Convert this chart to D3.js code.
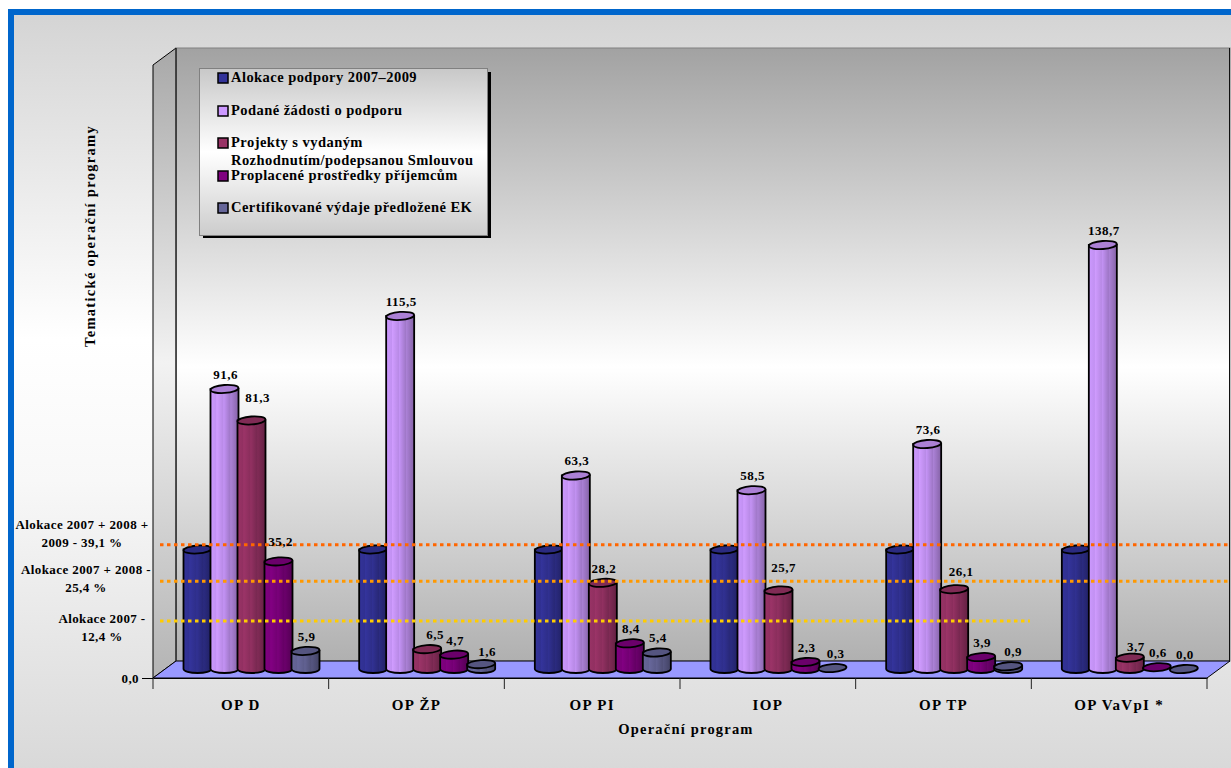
<!DOCTYPE html>
<html>
<head>
<meta charset="utf-8">
<script src="https://cdn.jsdelivr.net/npm/d3@7"></script>
<style>
  html, body { margin: 0; padding: 0; background: #fff; overflow: hidden; }
  text { font-family: "Liberation Serif", serif; font-weight: bold; fill: #000; }
</style>
</head>
<body>
<svg id="chart" width="1231" height="768"></svg>
<script>
// values, in millions / percent of allocation
let categories = ["OP D", "OP ŽP", "OP PI", "IOP", "OP TP", "OP VaVpI *"];
let seriesNames = [
  "Alokace podpory 2007–2009",
  "Podané žádosti o podporu",
  "Projekty s vydaným\nRozhodnutím/podepsanou Smlouvou",
  "Proplacené prostředky příjemcům",
  "Certifikované výdaje předložené EK"
];
let alokace = [39.1, 39.1, 39.1, 39.1, 39.1, 39.1];
let zadosti = [91.6, 115.5, 63.3, 58.5, 73.6, 138.7];
let projekty = [81.3, 6.5, 28.2, 25.7, 26.1, 3.7];
let proplacene = [35.2, 4.7, 8.4, 2.3, 3.9, 0.6];
let certifikovane = [5.9, 1.6, 5.4, 0.3, 0.9, 0.0];
let seriesValues = [alokace, zadosti, projekty, proplacene, certifikovane];

// which value labels are printed (the blue series has none)
let labelledSeries = [false, true, true, true, true];

// reference lines: where they sit on the back wall, and their captions
let refLineLevels = [38, 26.1, 13.1];
let refLineLabels = [
  ["Alokace 2007 + 2008 +", "2009 - 39,1 %"],
  ["Alokace 2007 + 2008 -", "25,4 %"],
  ["Alokace 2007 -", "12,4 %"]
];
let refLineColors = ["#ff6600", "#ff9900", "#ffcc00"];

let seriesColors = ["#333399", "#cc99ff", "#993366", "#800080", "#666699"];

let svg = d3.select("#chart");
let defs = svg.append("defs");

function vGradient(id, stops) {
  let g = defs.append("linearGradient").attr("id", id)
    .attr("x1", 0).attr("y1", 0).attr("x2", 0).attr("y2", 1);
  stops.forEach(s => g.append("stop").attr("offset", s[0]).attr("stop-color", s[1]));
}

vGradient("bg", [[0, "#d4d4d4"], [0.42, "#ffffff"], [0.6, "#f8f8f8"], [1, "#d6d6d6"]]);
vGradient("wall", [[0, "#a2a2a2"], [0.52, "#ffffff"], [1, "#b0b0b0"]]);
vGradient("legendBg", [[0, "#c8c8c8"], [0.5, "#ffffff"], [1, "#cccccc"]]);
vGradient("sideWall", [[0, "#a8a8a8"], [0.5, "#f2f2f2"], [1, "#b4b4b4"]]);

// cylinder shading: light on the left, dark on the right, with faint stripes
seriesColors.forEach((c, i) => {
  let g = defs.append("linearGradient").attr("id", "cyl" + i);
  let base = d3.color(c);
  let stops = [[0, 1.0], [0.2, 0.95], [0.22, 1.02], [0.45, 0.9], [0.47, 0.96], [0.7, 0.78], [0.72, 0.84], [1, 0.65]];
  stops.forEach(s => {
    let col = d3.rgb(Math.min(255, base.r * s[1]), Math.min(255, base.g * s[1]), Math.min(255, base.b * s[1]));
    g.append("stop").attr("offset", s[0]).attr("stop-color", col.formatHex());
  });
});

// frame
svg.append("rect").attr("x", 11).attr("y", 12).attr("width", 1240).attr("height", 780)
  .attr("fill", "url(#bg)").attr("stroke", "#0066cc").attr("stroke-width", 6);

// depth of the 3D box: front plane, bar plane, back wall
let depthX = 23, depthY = 17;
let frontBase = 678, barBase = 669, wallBase = 661;
let left = 153, right = 1207;

let x0 = d3.scaleBand().domain(categories).range([left, right]);
let x1 = d3.scaleBand().domain(d3.range(seriesNames.length)).range([31, 166]);
let y = d3.scaleLinear().domain([0, 138.7]).range([barBase, 245]);
let yFront = y.copy().range([frontBase, 245 + frontBase - barBase]);
let yWall = y.copy().range([wallBase, 245 + wallBase - barBase]);

// walls and floor
let wallTop = 48;
svg.append("rect").attr("x", left + depthX).attr("y", wallTop)
  .attr("width", right - left).attr("height", wallBase - wallTop)
  .attr("fill", "url(#wall)").attr("stroke", "#808080");
svg.append("path")
  .attr("d", d3.line()([[left, wallTop + depthY], [left + depthX, wallTop], [left + depthX, wallBase], [left, frontBase]]) + "Z")
  .attr("fill", "url(#sideWall)").attr("stroke", "#000").attr("stroke-width", 1);
svg.append("path")
  .attr("d", d3.line()([[left + depthX, wallBase], [right + depthX, wallBase], [right, frontBase], [left, frontBase]]) + "Z")
  .attr("fill", "#9999ff").attr("stroke", "#000").attr("stroke-width", 1);
svg.append("line").attr("x1", left + depthX).attr("x2", left + depthX).attr("y1", wallTop).attr("y2", wallBase)
  .attr("stroke", "#333");
svg.append("line").attr("x1", right + depthX - 0.5).attr("x2", right + depthX - 0.5).attr("y1", wallTop).attr("y2", wallBase)
  .attr("stroke", "#111");

// axes
let xAxis = d3.axisBottom(x0).tickSize(0).tickPadding(21);
let xGroup = svg.append("g").attr("transform", "translate(0," + frontBase + ")").call(xAxis);
xGroup.select(".domain").attr("stroke", "#000");
xGroup.selectAll("text").attr("font-size", 15).attr("letter-spacing", 1.3).attr("font-family", "Liberation Serif");

svg.append("g").selectAll("line")
  .data(categories.map(c => x0(c)).concat([right]))
  .join("line")
  .attr("x1", d => d).attr("x2", d => d)
  .attr("y1", frontBase).attr("y2", frontBase + 11)
  .attr("stroke", "#222");

let yAxis = d3.axisLeft(yFront).tickValues([0]).tickSize(11).tickFormat(d => d3.format(".1f")(d).replace(".", ","));
let yGroup = svg.append("g").attr("transform", "translate(" + left + ",0)").call(yAxis);
yGroup.select(".domain").remove();
yGroup.selectAll("text").attr("font-size", 13).attr("letter-spacing", 0.4).attr("font-family", "Liberation Serif");

// cylinders, left to right so later ones overlap earlier ones
let rx = x1.bandwidth() / 2 + 0.5;
let ry = 4;
let tilt = -4;

categories.forEach((cat, c) => {
  seriesValues.forEach((vals, s) => {
    let v = vals[c];
    let cx = x0(cat) + x1(s) + x1.bandwidth() / 2;
    let top = y(v);
    let g = svg.append("g").attr("class", "bar");
    if (v > 0.7) {
      g.append("path")
        .attr("d", `M${cx - rx},${top} L${cx - rx},${barBase} A${rx},${ry} 0 0 0 ${cx + rx},${barBase} L${cx + rx},${top} Z`)
        .attr("fill", `url(#cyl${s})`)
        .attr("stroke", "#000").attr("stroke-width", 1.8);
    }
    let topColor = d3.color(seriesColors[s]).darker(0.5);
    g.append("ellipse")
      .attr("cx", cx).attr("cy", top)
      .attr("rx", rx).attr("ry", ry)
      .attr("transform", `rotate(${tilt} ${cx} ${top})`)
      .attr("fill", topColor)
      .attr("stroke", "#000").attr("stroke-width", 1.8);
  });
});

// reference lines over the bars
refLineLevels.forEach((lvl, i) => {
  svg.append("line")
    .attr("x1", 160).attr("x2", i == 2 ? 1030 : 1231)
    .attr("y1", yWall(lvl)).attr("y2", yWall(lvl))
    .attr("stroke", refLineColors[i])
    .attr("stroke-width", 3)
    .attr("stroke-dasharray", "3.5 3.5");
});

// a few labels are pushed aside in the original so they clear the next bar
let labelShift = {"0-2": [6, -8], "0-3": [2, -5], "1-2": [8, 0], "3-2": [5, -8], "4-2": [7, -3], "2-1": [1, 0], "5-2": [6, 3], "1-4": [6, 2], "3-4": [3, 0], "4-4": [5, 0], "2-3": [1, 0]};

categories.forEach((cat, c) => {
  seriesValues.forEach((vals, s) => {
    if (!labelledSeries[s]) return;
    let shift = labelShift[c + "-" + s] || [1, 0];
    svg.append("text")
      .attr("x", x0(cat) + x1(s) + x1.bandwidth() / 2 + shift[0])
      .attr("y", y(vals[c]) - 10 + shift[1])
      .attr("text-anchor", "middle")
      .attr("font-size", 13)
      .attr("letter-spacing", 0.5)
      .text(d3.format(".1f")(vals[c]).replace(".", ","));
  });
});

// captions of the reference lines
let captionX = [82, 86, 102];
let captionY = [529, 574, 623];
refLineLabels.forEach((lines, i) => {
  lines.forEach((t, j) => {
    svg.append("text")
      .attr("x", captionX[i])
      .attr("y", captionY[i] + j * 18)
      .attr("text-anchor", "middle")
      .attr("font-size", 13)
      .attr("letter-spacing", 0.4)
      .text(t);
  });
});

// axis titles
svg.append("text").attr("x", 686).attr("y", 734).attr("text-anchor", "middle")
  .attr("font-size", 14.5).attr("letter-spacing", 1.2).text("Operační program");
svg.append("text").attr("transform", "translate(95,236) rotate(-90)").attr("text-anchor", "middle")
  .attr("font-size", 14.5).attr("letter-spacing", 1.3).text("Tematické operační programy");

// legend
let legend = svg.append("g");
legend.append("rect").attr("x", 203).attr("y", 72).attr("width", 288).attr("height", 166).attr("fill", "#000");
legend.append("rect").attr("x", 199.5).attr("y", 68.5).attr("width", 288).attr("height", 167)
  .attr("fill", "url(#legendBg)").attr("stroke", "#808080");

let legendY = [78, 111, 143, 176, 208];
seriesNames.forEach((name, i) => {
  legend.append("rect").attr("x", 218).attr("y", legendY[i] - 5).attr("width", 10).attr("height", 10)
    .attr("fill", seriesColors[i]).attr("stroke", "#000").attr("stroke-width", 1.5);
  name.split("\n").forEach((t, j) => {
    legend.append("text").attr("x", 231).attr("y", legendY[i] + 4 + j * 18)
      .attr("font-size", 14.5).attr("letter-spacing", 0.45).text(t);
  });
});
</script>
</body>
</html>
